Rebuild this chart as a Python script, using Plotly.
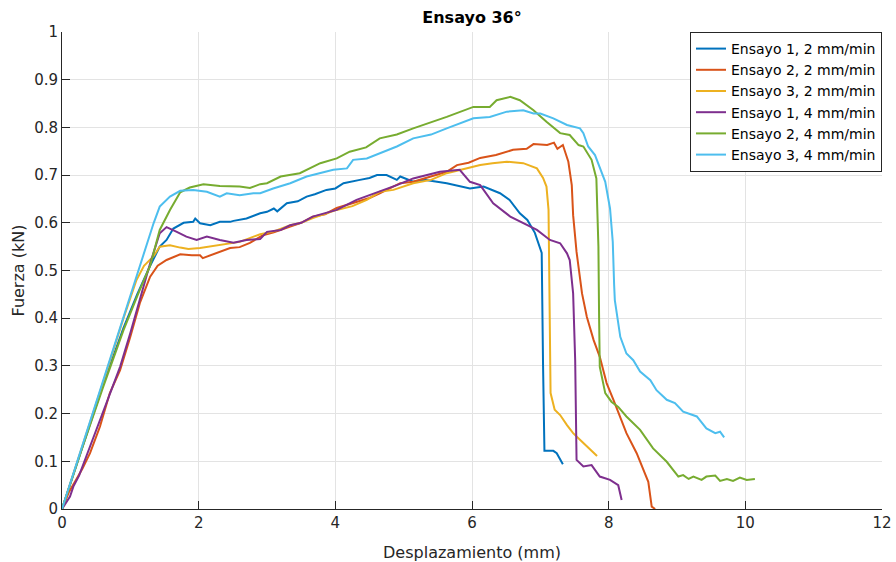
import plotly.graph_objects as go

# ---------------- data ----------------
names = ["Ensayo 1, 2 mm/min", "Ensayo 2, 2 mm/min", "Ensayo 3, 2 mm/min",
         "Ensayo 1, 4 mm/min", "Ensayo 2, 4 mm/min", "Ensayo 3, 4 mm/min"]
colors = ["#0072BD", "#D95319", "#EDB120", "#7E2F8E", "#77AC30", "#4DBEEE"]

x_e1_2 = [0, 0.3, 0.6, 0.9, 1.1, 1.29, 1.43, 1.53, 1.63, 1.78, 1.92, 1.95, 2.02, 2.17, 2.31, 2.46,
          2.51, 2.7, 2.9, 3.0, 3.1, 3.15, 3.29, 3.45, 3.58, 3.7, 3.87, 4.0, 4.12, 4.36, 4.5, 4.61, 4.75,
          4.9, 4.95, 5.14, 5.3, 5.63, 5.8, 5.97, 6.12, 6.17, 6.41, 6.55, 6.70, 6.81, 6.92, 7.02, 7.04,
          7.06, 7.19, 7.24, 7.33]
y_e1_2 = [0, 0.13, 0.26, 0.38, 0.45, 0.51, 0.55, 0.564, 0.588, 0.60, 0.602, 0.609, 0.599, 0.595, 0.602,
          0.602, 0.604, 0.609, 0.62, 0.623, 0.630, 0.624, 0.641, 0.645, 0.655, 0.66, 0.669, 0.672, 0.683,
          0.69, 0.694, 0.70, 0.70, 0.69, 0.697, 0.686, 0.69, 0.683, 0.678, 0.672, 0.675, 0.676, 0.662,
          0.648, 0.62, 0.606, 0.579, 0.537, 0.30, 0.122, 0.122, 0.117, 0.094]

x_e2_2 = [0, 0.1, 0.2, 0.3, 0.41, 0.556, 0.70, 0.85, 1.0, 1.14, 1.29, 1.4, 1.53, 1.73, 1.9, 2.02, 2.06,
          2.31, 2.46, 2.6, 2.75, 2.94, 3.1, 3.34, 3.5, 3.67, 3.85, 4.02, 4.32, 4.5, 4.65, 4.95, 5.14, 5.4,
          5.63, 5.78, 5.95, 6.12, 6.35, 6.6, 6.8, 6.9, 7.1, 7.2, 7.25, 7.33, 7.41, 7.46, 7.48, 7.53, 7.61,
          7.68, 7.78, 7.87, 7.97, 8.07, 8.17, 8.26, 8.41, 8.53, 8.58, 8.63, 8.68]
y_e2_2 = [0, 0.035, 0.06, 0.085, 0.117, 0.173, 0.243, 0.291, 0.361, 0.432, 0.487, 0.51, 0.522, 0.534,
          0.532, 0.532, 0.526, 0.539, 0.547, 0.549, 0.558, 0.574, 0.58, 0.592, 0.60, 0.613, 0.618, 0.631,
          0.644, 0.652, 0.662, 0.683, 0.686, 0.698, 0.707, 0.721, 0.726, 0.736, 0.742, 0.753, 0.755,
          0.765, 0.763, 0.768, 0.755, 0.763, 0.728, 0.679, 0.616, 0.539, 0.452, 0.403, 0.354, 0.319,
          0.264, 0.229, 0.194, 0.159, 0.117, 0.075, 0.057, 0.005, 0]

x_e3_2 = [0, 0.3, 0.6, 0.9, 1.09, 1.2, 1.34, 1.43, 1.58, 1.73, 1.85, 2.02, 2.15, 2.31, 2.46, 2.6, 2.9,
          3.1, 3.34, 3.5, 3.67, 4.02, 4.25, 4.46, 4.65, 4.85, 5.14, 5.4, 5.63, 5.93, 6.12, 6.3, 6.51, 6.75,
          6.95, 7.04, 7.09, 7.12, 7.13, 7.14, 7.15, 7.21, 7.29, 7.39, 7.48, 7.58, 7.68, 7.83]
y_e3_2 = [0, 0.13, 0.265, 0.40, 0.48, 0.51, 0.53, 0.55, 0.553, 0.548, 0.545, 0.547, 0.55, 0.553, 0.557,
          0.56, 0.576, 0.582, 0.595, 0.60, 0.61, 0.627, 0.635, 0.648, 0.665, 0.669, 0.683, 0.69, 0.704,
          0.714, 0.721, 0.725, 0.728, 0.725, 0.714, 0.694, 0.676, 0.627, 0.45, 0.30, 0.243, 0.208, 0.197,
          0.176, 0.159, 0.145, 0.131, 0.111]

x_e1_4 = [0, 0.117, 0.166, 0.25, 0.41, 0.556, 0.70, 0.85, 1.0, 1.14, 1.29, 1.43, 1.53, 1.68, 1.82, 1.97,
          2.12, 2.31, 2.51, 2.7, 2.9, 3.0, 3.2, 3.34, 3.5, 3.67, 4.02, 4.31, 4.65, 4.9, 5.14, 5.53, 5.82,
          5.97, 6.12, 6.31, 6.56, 6.75, 6.95, 7.14, 7.29, 7.39, 7.43, 7.48, 7.51, 7.53, 7.63, 7.75, 7.87,
          8.02, 8.14, 8.19]
y_e1_4 = [0, 0.026, 0.047, 0.07, 0.131, 0.187, 0.243, 0.298, 0.369, 0.438, 0.515, 0.578, 0.591, 0.581,
          0.571, 0.564, 0.571, 0.564, 0.558, 0.564, 0.566, 0.581, 0.585, 0.595, 0.60, 0.613, 0.627, 0.648,
          0.665, 0.679, 0.693, 0.707, 0.711, 0.686, 0.679, 0.641, 0.613, 0.599, 0.585, 0.564, 0.557,
          0.536, 0.522, 0.452, 0.312, 0.103, 0.089, 0.092, 0.068, 0.061, 0.05, 0.019]

x_e2_4 = [0, 0.3, 0.6, 0.9, 1.14, 1.29, 1.43, 1.58, 1.73, 1.87, 2.07, 2.31, 2.6, 2.75, 2.9, 3.0, 3.2,
          3.48, 3.78, 4.02, 4.21, 4.45, 4.65, 4.9, 5.14, 5.4, 5.63, 6.02, 6.26, 6.36, 6.56, 6.70, 6.9, 7.09,
          7.29, 7.43, 7.56, 7.63, 7.75, 7.82, 7.85, 7.86, 7.87, 7.95, 8.04, 8.14, 8.26, 8.46, 8.65, 8.85,
          9.02, 9.09, 9.17, 9.24, 9.36, 9.43, 9.56, 9.63, 9.73, 9.82, 9.92, 10.02, 10.14]
y_e2_4 = [0, 0.13, 0.255, 0.375, 0.46, 0.51, 0.585, 0.627, 0.664, 0.674, 0.681, 0.677, 0.676, 0.673,
          0.681, 0.683, 0.697, 0.704, 0.725, 0.735, 0.749, 0.758, 0.777, 0.785, 0.798, 0.81, 0.822, 0.843,
          0.843, 0.857, 0.864, 0.857, 0.836, 0.812, 0.788, 0.784, 0.763, 0.76, 0.732, 0.693, 0.55, 0.40,
          0.298, 0.243, 0.225, 0.214, 0.194, 0.166, 0.127, 0.099, 0.068, 0.071, 0.063, 0.068, 0.061,
          0.068, 0.07, 0.059, 0.063, 0.059, 0.066, 0.061, 0.063]

x_e3_4 = [0, 0.3, 0.6, 0.9, 1.17, 1.34, 1.43, 1.58, 1.73, 1.92, 2.12, 2.21, 2.31, 2.41, 2.6, 2.8, 2.9,
          3.09, 3.34, 3.58, 3.97, 4.17, 4.26, 4.46, 4.70, 4.9, 5.14, 5.4, 5.63, 6.02, 6.26, 6.51, 6.75, 6.9,
          7.0, 7.19, 7.39, 7.58, 7.63, 7.70, 7.80, 7.87, 7.95, 8.02, 8.06, 8.08, 8.09, 8.17, 8.26, 8.36,
          8.46, 8.61, 8.70, 8.85, 8.97, 9.09, 9.29, 9.43, 9.56, 9.63, 9.69]
y_e3_4 = [0, 0.134, 0.268, 0.40, 0.522, 0.599, 0.634, 0.655, 0.667, 0.669, 0.665, 0.66, 0.655, 0.662,
          0.658, 0.662, 0.662, 0.672, 0.683, 0.697, 0.711, 0.714, 0.732, 0.735, 0.749, 0.76, 0.777, 0.785,
          0.798, 0.819, 0.822, 0.833, 0.836, 0.829, 0.829, 0.819, 0.805, 0.798, 0.788, 0.76, 0.742, 0.714,
          0.686, 0.63, 0.56, 0.47, 0.438, 0.361, 0.326, 0.312, 0.288, 0.27, 0.249, 0.229, 0.222, 0.204,
          0.194, 0.169, 0.159, 0.162, 0.15]

xs = [x_e1_2, x_e2_2, x_e3_2, x_e1_4, x_e2_4, x_e3_4]
ys = [y_e1_2, y_e2_2, y_e3_2, y_e1_4, y_e2_4, y_e3_4]

x_ticks = [0, 2, 4, 6, 8, 10, 12]
x_ticktext = ["0", "2", "4", "6", "8", "10", "12"]
y_ticks = [0, 0.1, 0.2, 0.3, 0.4, 0.5, 0.6, 0.7, 0.8, 0.9, 1]
y_ticktext = ["0", "0.1", "0.2", "0.3", "0.4", "0.5", "0.6", "0.7", "0.8", "0.9", "1"]

# ---------------- figure ----------------
FONT = "DejaVu Sans"
AX = "#262626"
GRID = "#e3e3e3"

fig = go.Figure()
for n, c, x, y in zip(names, colors, xs, ys):
    fig.add_trace(go.Scatter(x=x, y=y, mode="lines", name=n,
                             line=dict(color=c, width=2)))

fig.update_layout(
    width=896, height=562,
    margin=dict(l=62, r=14, t=32, b=53, autoexpand=False),
    paper_bgcolor="white", plot_bgcolor="white",
    font=dict(family=FONT, color=AX, size=14),
    title=dict(text="<b>Ensayo 36°</b>", x=0.5, xref="paper", xanchor="center",
               y=1 - 17 / 562, yref="container", yanchor="middle",
               font=dict(family=FONT, size=16, color="black")),
    showlegend=True,
    legend=dict(x=1, y=1, xanchor="right", yanchor="top",
                bgcolor="white", bordercolor=AX, borderwidth=1,
                font=dict(family=FONT, size=14, color="black"),
                tracegroupgap=0),
)
fig.update_xaxes(range=[0, 12], tickvals=x_ticks, ticktext=x_ticktext, automargin=False,
                 showgrid=True, gridcolor=GRID, gridwidth=1, zeroline=False,
                 showline=True, linecolor=AX, linewidth=1,
                 ticks="inside", ticklen=8, tickcolor=AX,
                 tickfont=dict(family=FONT, size=15, color=AX),
                 title=dict(text="Desplazamiento (mm)", standoff=15,
                            font=dict(family=FONT, size=16, color=AX)))
fig.update_yaxes(range=[0, 1], tickvals=y_ticks, ticktext=y_ticktext, automargin=False,
                 showgrid=True, gridcolor=GRID, gridwidth=1, zeroline=False,
                 showline=True, linecolor=AX, linewidth=1,
                 ticks="inside", ticklen=8, tickcolor=AX,
                 tickfont=dict(family=FONT, size=15, color=AX),
                 title=dict(text="Fuerza (kN)", standoff=5,
                            font=dict(family=FONT, size=16, color=AX)))

fig.write_html("out.html")
